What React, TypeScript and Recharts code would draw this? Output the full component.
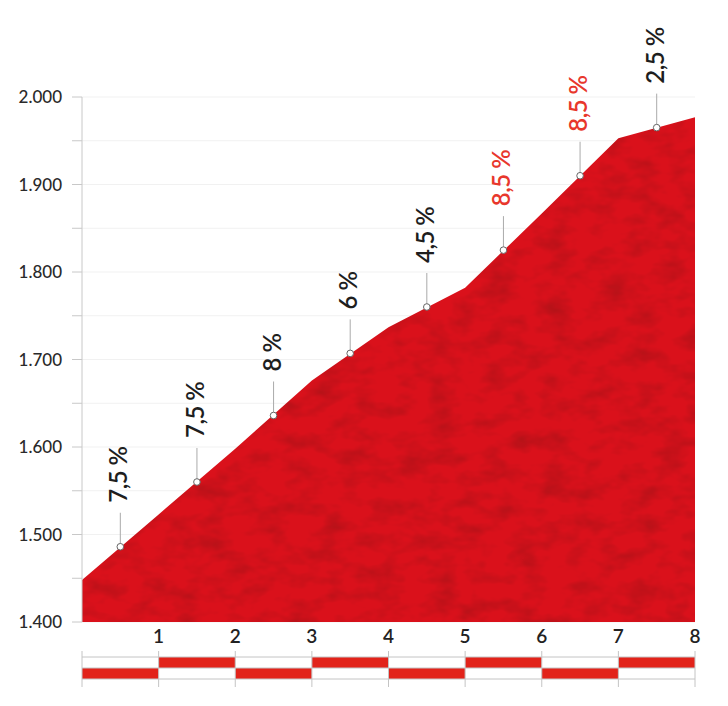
import { ComposedChart, Area, Scatter, XAxis, YAxis, CartesianGrid, ReferenceArea, ReferenceLine } from 'recharts'

document.body.style.margin = '0'

// elevation profile, one point per km
const km = [0, 1, 2, 3, 4, 5, 6, 7, 8]
const elevation = [1448, 1523, 1598, 1676, 1737, 1782, 1867, 1953, 1977]

// gradient labels at mid-km
const gradeKm = [0.5, 1.5, 2.5, 3.5, 4.5, 5.5, 6.5, 7.5]
const gradeElev = [1486, 1560, 1636, 1707, 1760, 1825, 1910, 1965]
const gradeText = ['7,5 %', '7,5 %', '8 %', '6 %', '4,5 %', '8,5 %', '8,5 %', '2,5 %']
const gradeHard = [false, false, false, false, false, true, true, false]

// km strip below the chart
const stripRow = ['bottom', 'top', 'bottom', 'top', 'bottom', 'top', 'bottom', 'top']

const yTicks = [1400, 1450, 1500, 1550, 1600, 1650, 1700, 1750, 1800, 1850, 1900, 1950, 2000]
const xTicks = [1, 2, 3, 4, 5, 6, 7, 8]

const profile = km.map((k, i) => ({ km: k, elev: elevation[i] }))
const grades = gradeKm.map((k, i) => ({ km: k, elev: gradeElev[i], text: gradeText[i], hard: gradeHard[i] }))

const FONT = 'Lato, "Open Sans", sans-serif'
const RED = '#da111b'

// the strip lives below the plot, so its rows are given in the y axis' units
const PX_PER_M = 525 / 600
const belowPlot = (px: number) => 1400 - px / PX_PER_M
const STRIP_TOP = belowPlot(35)
const STRIP_MID = belowPlot(46)
const STRIP_BOT = belowPlot(57)
const TICK_TOP = belowPlot(29)
const TICK_BOT = belowPlot(65)

const fmtElev = (v: number) => `${Math.floor(v / 1000)}.${String(v % 1000).padStart(3, '0')}`

const YTick = (props: any) => {
  const { x, y, payload } = props
  if (payload.value % 100 !== 0) return <g />
  return (
    <text x={x} y={y} dy={6} textAnchor="end" fontSize={17} fontWeight={500} fill="#2a2a2a" fontFamily={FONT}>
      {fmtElev(payload.value)}
    </text>
  )
}

const GradeMark = (props: any) => {
  const { cx, cy, payload } = props
  const tx = cx + 7
  const ty = cy - 44
  return (
    <g>
      <line x1={cx} y1={cy - 3} x2={cx} y2={cy - 34} stroke="#aaa" strokeWidth={1} />
      <circle cx={cx} cy={cy} r={3.3} fill="#fff" stroke="#666" strokeWidth={1} />
      <text
        x={tx}
        y={ty}
        transform={`rotate(-90 ${tx} ${ty})`}
        fontSize={24}
        fontWeight={600}
        letterSpacing={-0.5}
        fontFamily={FONT}
        fill={payload.hard ? '#e8372c' : '#1e1e1e'}
      >
        {payload.text}
      </text>
    </g>
  )
}

const App = () => {
  return (
    <div style={{ width: 728, height: 706, background: '#fff' }}>
      <ComposedChart width={728} height={706} data={profile} margin={{ top: 97, right: 33, bottom: 54, left: 8 }}>
        <defs>
          <filter id="tex" x="0" y="0" width="100%" height="100%" colorInterpolationFilters="sRGB">
            <feTurbulence type="fractalNoise" baseFrequency="0.035 0.06" numOctaves="3" seed="4" result="noise" />
            <feColorMatrix
              in="noise"
              type="matrix"
              values="0 0 0 0 0.66  0 0 0 0 0.07  0 0 0 0 0.09  1.4 0 0 0 -0.58"
              result="spots"
            />
            <feComposite in="spots" in2="SourceGraphic" operator="over" />
          </filter>
          <pattern id="texture" patternUnits="userSpaceOnUse" width={728} height={706}>
            <rect width={728} height={706} fill={RED} filter="url(#tex)" />
          </pattern>
        </defs>
        <CartesianGrid vertical={false} stroke="#f1f1f1" />
        <XAxis
          dataKey="km"
          type="number"
          domain={[0, 8]}
          ticks={xTicks}
          height={30}
          axisLine={false}
          tickLine={false}
          tickSize={8}
          tickMargin={0}
          tick={{ fontSize: 19, fill: '#222', fontWeight: 600, fontFamily: FONT }}
        />
        <YAxis
          type="number"
          domain={[1400, 2000]}
          ticks={yTicks}
          width={74}
          axisLine={{ stroke: '#c8c8c8' }}
          tickLine={{ stroke: '#c8c8c8' }}
          tickSize={10}
          tickMargin={10}
          tick={<YTick />}
        />
        <Area
          type="linear"
          dataKey="elev"
          stroke="none"
          fill="url(#texture)"
          fillOpacity={1}
          baseValue={1400}
          isAnimationActive={false}
        />
        {stripRow.map((row, i) => (
          <ReferenceArea
            key={`s${i}`}
            x1={km[i]}
            x2={km[i + 1]}
            y1={row === 'top' ? STRIP_MID : STRIP_BOT}
            y2={row === 'top' ? STRIP_TOP : STRIP_MID}
            ifOverflow="visible"
            fill="#e2231a"
            fillOpacity={1}
            stroke="none"
          />
        ))}
        {[STRIP_TOP, STRIP_MID, STRIP_BOT].map((v, i) => (
          <ReferenceLine
            key={`h${i}`}
            segment={[{ x: 0, y: v }, { x: 8, y: v }]}
            ifOverflow="visible"
            stroke="#c4c4c4"
          />
        ))}
        {km.map((k) => (
          <ReferenceLine
            key={`v${k}`}
            segment={[{ x: k, y: TICK_TOP }, { x: k, y: TICK_BOT }]}
            ifOverflow="visible"
            stroke="#c4c4c4"
          />
        ))}
        <Scatter data={grades} dataKey="elev" shape={<GradeMark />} isAnimationActive={false} />
      </ComposedChart>
    </div>
  )
}

export default App
